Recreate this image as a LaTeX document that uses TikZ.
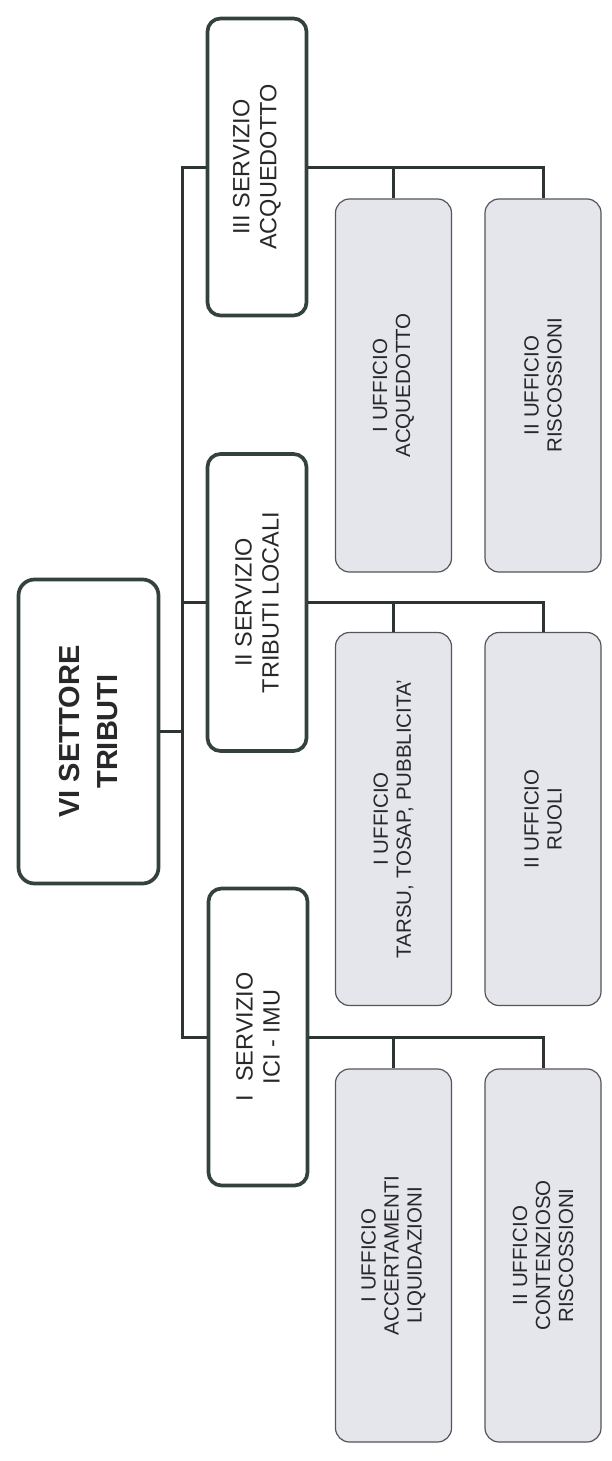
\documentclass[tikz,border=0pt]{standalone}
\usepackage{fontspec}
\setmainfont{Liberation Sans}
\definecolor{edge}{RGB}{52,66,60}
\definecolor{linec}{RGB}{45,52,50}
\definecolor{uffedge}{RGB}{85,85,90}
\definecolor{ufffill}{RGB}{229,229,236}
\definecolor{txt}{RGB}{40,40,42}
% boxes are rotated by 90 degrees: local north = page left, local south = page right,
% local east = page top, local west = page bottom
\tikzset{
  rootbox/.style={rotate=90, draw=edge, fill=white, line width=3.7pt, rounded corners=16pt,
    minimum width=304pt, minimum height=140pt, inner sep=0pt, text=txt, align=center,
    font=\fontsize{29}{38}\selectfont\bfseries},
  servbox/.style={rotate=90, draw=edge, fill=white, line width=3.7pt, rounded corners=13pt,
    minimum width=297pt, minimum height=99pt, inner sep=0pt, text=txt, align=center,
    font=\fontsize{23.5}{27}\selectfont},
  uffbox/.style={rotate=90, draw=uffedge, fill=ufffill, line width=1.2pt, rounded corners=14pt,
    minimum width=373pt, minimum height=116pt, inner sep=0pt, text=txt, align=center,
    font=\fontsize{20.5}{23}\selectfont},
  link/.style={draw=linec, line width=3pt, line join=miter}
}
\begin{document}
\begin{tikzpicture}[x=1pt,y=-1pt]
\useasboundingbox[fill=white] (0,0) rectangle (612,1461);

% trunk coordinates
\coordinate (t3) at (182,167);
\coordinate (t2) at (182,602.5);
\coordinate (t1) at (182,1037);

% boxes
\node[rootbox] (root) at (88.5,731.5) {VI SETTORE\\TRIBUTI};

\node[servbox] (s3) at (257,167) {III SERVIZIO\\ACQUEDOTTO};
\node[servbox] (s2) at (257,602.5) {II SERVIZIO\\TRIBUTI LOCALI};
\node[servbox] (s1) at (258,1037) {I\ \ SERVIZIO\\ICI - IMU};

\node[uffbox] (u3a) at (393.5,385.5) {I UFFICIO\\ACQUEDOTTO};
\node[uffbox] (u3b) at (543,385.5) {II UFFICIO\\RISCOSSIONI};
\node[uffbox] (u2a) at (393.5,819) {I UFFICIO\\TARSU, TOSAP, PUBBLICITA'};
\node[uffbox] (u2b) at (543,819) {II UFFICIO\\RUOLI};
\node[uffbox] (u1a) at (393.5,1255.5) {I UFFICIO\\ACCERTAMENTI\\LIQUIDAZIONI};
\node[uffbox] (u1b) at (543,1255.5) {II UFFICIO\\CONTENZIOSO\\RISCOSSIONI};

% connectors
\draw[link] (s3.north) -- (t3) -- (t1) -- (s1.north);
\draw[link] (t2) -- (s2.north);
\draw[link] (root.south) -- (root.south -| t3);

\draw[link] (s3.south) -- (s3.south -| u3b.east) -- (u3b.east);
\draw[link] (u3a.east |- s3.south) -- (u3a.east);

\draw[link] (s2.south) -- (s2.south -| u2b.east) -- (u2b.east);
\draw[link] (u2a.east |- s2.south) -- (u2a.east);

\draw[link] (s1.south) -- (s1.south -| u1b.east) -- (u1b.east);
\draw[link] (u1a.east |- s1.south) -- (u1a.east);
\end{tikzpicture}
\end{document}
